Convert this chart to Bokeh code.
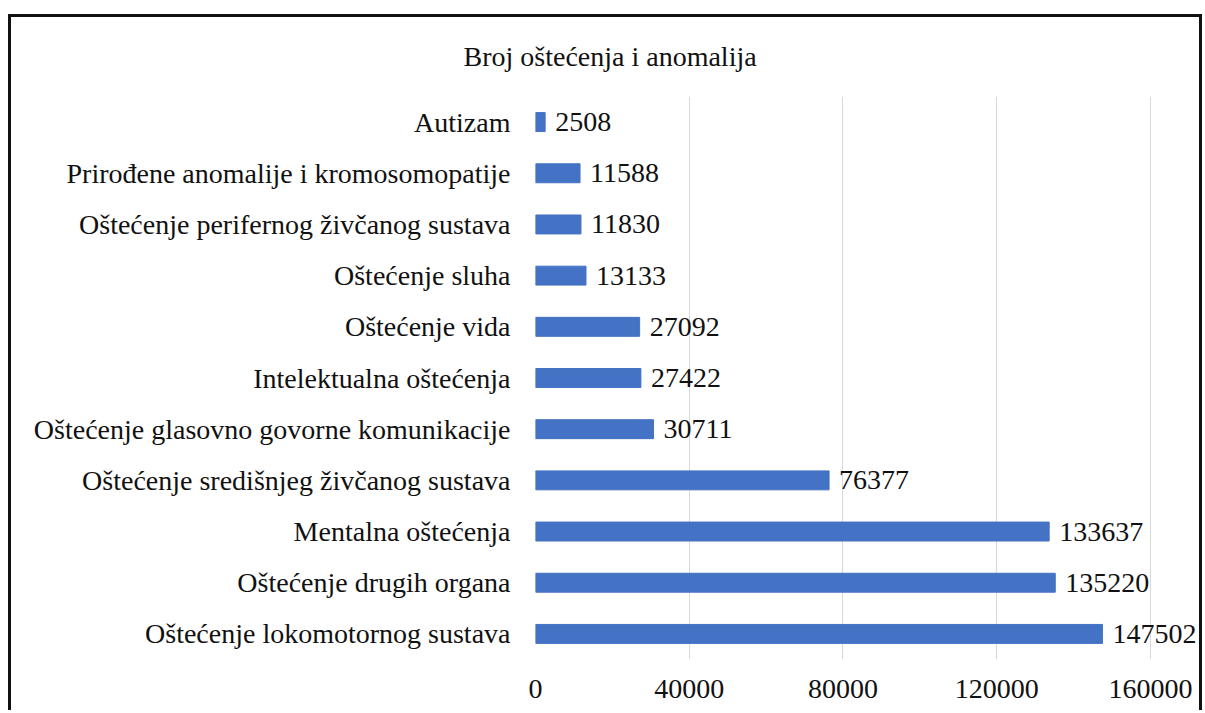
from bokeh.plotting import figure
from bokeh.models import ColumnDataSource, FixedTicker, Range1d, FactorRange, NumeralTickFormatter
from bokeh.core.properties import value
from bokeh.embed import file_html
from bokeh.resources import INLINE

title_text = "Broj oštećenja i anomalija"

categories = [
    "Autizam",
    "Prirođene anomalije i kromosomopatije",
    "Oštećenje perifernog živčanog sustava",
    "Oštećenje sluha",
    "Oštećenje vida",
    "Intelektualna oštećenja",
    "Oštećenje glasovno govorne komunikacije",
    "Oštećenje središnjeg živčanog sustava",
    "Mentalna oštećenja",
    "Oštećenje drugih organa",
    "Oštećenje lokomotornog sustava",
]
counts = [2508, 11588, 11830, 13133, 27092, 27422, 30711, 76377, 133637, 135220, 147502]
x_ticks = [0, 40000, 80000, 120000, 160000]

FONT = "Liberation Serif"
FS = "28px"
TXT = "#111111"

src = ColumnDataSource(dict(cat=categories, val=counts, lab=[str(v) for v in counts]))

p = figure(
    y_range=FactorRange(factors=list(reversed(categories)), range_padding=0),
    x_range=Range1d(0, 172750),
    frame_width=664, frame_height=563,
    min_border_left=524, min_border_top=79, min_border_right=0, min_border_bottom=51,
    output_backend="svg", toolbar_location=None,
)
p.styles = {
    "border-top": "3px solid #111",
    "border-left": "3px solid #111",
    "border-right": "3px solid #111",
    "margin-top": "14px",
    "margin-left": "8px",
}

p.title.text = title_text
p.title.text_font = FONT
p.title.text_font_size = FS
p.title.text_font_style = "normal"
p.title.text_color = TXT
p.title.align = "left"
p.title.vertical_align = "top"
p.title.offset = -72
p.title.standoff = 45

p.hbar(y="cat", right="val", left=0, height=0.37, source=src,
       fill_color="#4472C4", line_color="#4472C4")
p.text(x="val", y="cat", text="lab", source=src, x_offset=10,
       text_baseline="middle", text_align="left",
       text_font=value(FONT), text_font_size=FS, text_color=TXT)

p.xaxis.ticker = FixedTicker(ticks=x_ticks)
p.xaxis.formatter = NumeralTickFormatter(format="0")
p.xaxis.axis_line_color = None
p.xaxis.major_tick_line_color = None
p.xaxis.minor_tick_line_color = None
p.xaxis.major_label_text_font = FONT
p.xaxis.major_label_text_font_size = FS
p.xaxis.major_label_text_color = TXT
p.xaxis.major_label_standoff = 14

p.yaxis.axis_line_color = None
p.yaxis.major_tick_line_color = None
p.yaxis.minor_tick_line_color = None
p.yaxis.major_tick_out = 0
p.yaxis.major_label_text_font = FONT
p.yaxis.major_label_text_font_size = FS
p.yaxis.major_label_text_color = TXT
p.yaxis.major_label_standoff = 25

p.xgrid.ticker = FixedTicker(ticks=x_ticks)
p.xgrid.grid_line_color = "#d9d9d9"
p.xgrid.grid_line_width = 1
p.ygrid.grid_line_color = None
p.outline_line_color = None
p.background_fill_color = "white"
p.border_fill_color = "white"

open("out.html", "w").write(file_html(p, INLINE))
